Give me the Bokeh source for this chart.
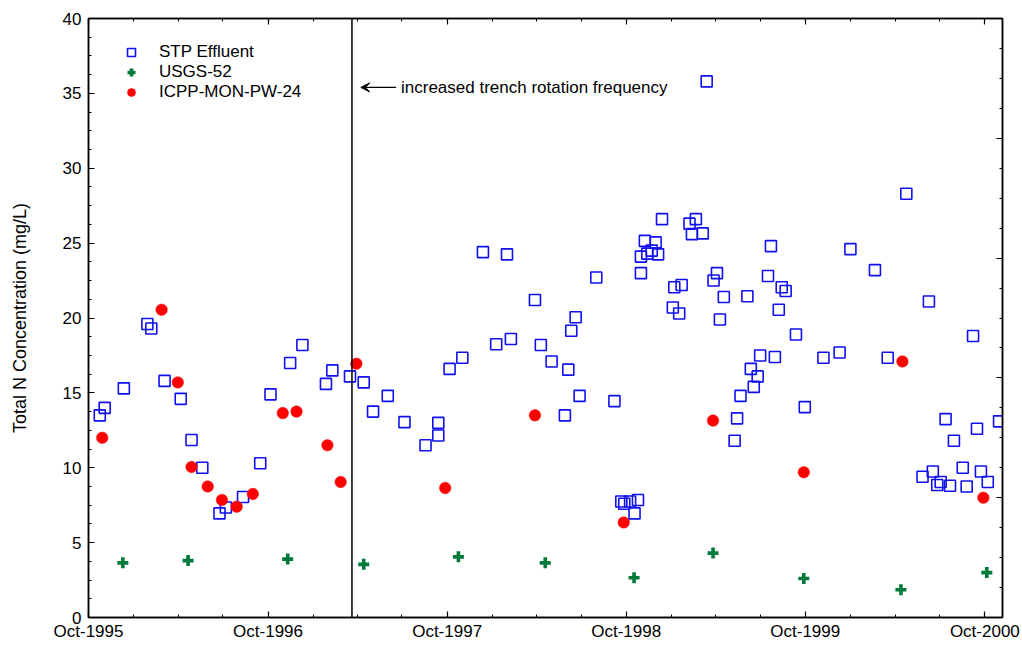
import pandas as pd
from bokeh.plotting import figure
from bokeh.models import (Range1d, FixedTicker, DatetimeTickFormatter, DatetimeAxis,
                          LinearAxis, Span, Arrow, VeeHead, Label, Legend)
from bokeh.embed import file_html
from bokeh.resources import INLINE

# ---------------- data ----------------
stp_dates = ["1995-10-24", "1995-11-03", "1995-12-12", "1996-01-29", "1996-02-06", "1996-03-04",
             "1996-04-06", "1996-04-28", "1996-05-20", "1996-06-24", "1996-07-07", "1996-08-11",
             "1996-09-15", "1996-10-06", "1996-11-15", "1996-12-10", "1997-01-27", "1997-02-09",
             "1997-03-17", "1997-04-14", "1997-05-03", "1997-06-02", "1997-07-06", "1997-08-18",
             "1997-09-13", "1997-09-13", "1997-10-06", "1997-11-01", "1997-12-13", "1998-01-09",
             "1998-01-31", "1998-02-08", "1998-03-29", "1998-04-10", "1998-05-02", "1998-05-29",
             "1998-06-05", "1998-06-11", "1998-06-20", "1998-06-28", "1998-08-01", "1998-09-07",
             "1998-09-21", "1998-09-27", "1998-10-09", "1998-10-18", "1998-10-25", "1998-10-31",
             "1998-10-31", "1998-11-08", "1998-11-13", "1998-11-22", "1998-11-30", "1998-12-05",
             "1998-12-13", "1999-01-04", "1999-01-07", "1999-01-17", "1999-01-22", "1999-02-07",
             "1999-02-12", "1999-02-20", "1999-03-06", "1999-03-14", "1999-03-28", "1999-04-04",
             "1999-04-10", "1999-04-18", "1999-05-10", "1999-05-15", "1999-05-22", "1999-06-05",
             "1999-06-12", "1999-06-18", "1999-06-26", "1999-07-01", "1999-07-17", "1999-07-23",
             "1999-07-31", "1999-08-08", "1999-08-14", "1999-08-22", "1999-09-12", "1999-09-30",
             "1999-11-07", "1999-12-10", "2000-01-01", "2000-02-20", "2000-03-17", "2000-04-24",
             "2000-05-27", "2000-06-09", "2000-06-17", "2000-06-26", "2000-07-03", "2000-07-13",
             "2000-07-22", "2000-07-30", "2000-08-17", "2000-08-25", "2000-09-07", "2000-09-15",
             "2000-09-23", "2000-10-07", "2000-10-30"]
stp_values = [13.5, 14.0, 15.3, 19.6, 19.3, 15.8, 14.6, 11.85, 10.0, 6.95, 7.35, 8.05,
              10.3, 14.9, 17.0, 18.2, 15.6, 16.5, 16.1, 15.7, 13.75, 14.8, 13.05, 11.5,
              12.15, 13.0, 16.6, 17.35, 24.4, 18.25, 24.25, 18.6, 21.2, 18.2, 17.1, 13.5,
              16.55, 19.15, 20.05, 14.8, 22.7, 14.45, 7.75, 7.6, 7.75, 6.95, 7.85, 24.1,
              23.0, 25.15, 24.3, 24.5, 25.05, 24.25, 26.6, 20.7, 22.05, 20.3, 22.2, 26.3,
              25.6, 26.6, 25.65, 35.8, 22.5, 23.0, 19.9, 21.4, 11.8, 13.3, 14.8, 21.45,
              16.6, 15.4, 16.1, 17.5, 22.8, 24.8, 17.4, 20.55, 22.05, 21.8, 18.9, 14.05,
              17.35, 17.7, 24.6, 23.2, 17.35, 28.3, 9.4, 21.1, 9.75, 8.85, 9.05, 13.25,
              8.8, 11.8, 10.0, 8.75, 18.8, 12.6, 9.75, 9.05, 13.1]

usgs_dates = ["1995-12-10", "1996-04-21", "1996-11-10", "1997-04-14", "1997-10-24", "1998-04-19",
              "1998-10-17", "1999-03-27", "1999-09-28", "2000-04-13", "2000-10-05"]
usgs_values = [3.65, 3.8, 3.9, 3.55, 4.05, 3.65, 2.65, 4.3, 2.6, 1.85, 3.0]

icpp_dates = ["1995-10-29", "1996-02-27", "1996-03-31", "1996-04-28", "1996-05-31", "1996-06-29",
              "1996-07-29", "1996-08-31", "1996-10-31", "1996-11-28", "1997-01-30", "1997-02-26",
              "1997-03-30", "1997-09-27", "1998-03-29", "1998-09-26", "1999-03-27", "1999-09-28",
              "2000-04-16", "2000-09-28"]
icpp_values = [12.0, 20.55, 15.7, 10.05, 8.75, 7.85, 7.4, 8.25, 13.65, 13.75, 11.5, 9.05,
               16.95, 8.65, 13.5, 6.35, 13.15, 9.7, 17.1, 8.0]

series_names = ["STP Effluent", "USGS-52", "ICPP-MON-PW-24"]
year_ticks = ["1995-10-01", "1996-10-01", "1997-10-01", "1998-10-01", "1999-10-01", "2000-10-01"]
quarter_ticks = ["1996-01-01", "1996-04-01", "1996-07-01", "1997-01-01", "1997-04-01", "1997-07-01",
                 "1998-01-01", "1998-04-01", "1998-07-01", "1999-01-01", "1999-04-01", "1999-07-01",
                 "2000-01-01", "2000-04-01", "2000-07-01"]
x_start, x_end = "1995-10-01", "2000-11-06"
event_date = "1997-03-21"
note_text = "increased trench rotation frequency"
note_value = 35.4
arrow_from, arrow_to, note_x = "1997-06-19", "1997-04-08", "1997-06-29"
y_label = "Total N Concentration (mg/L)"


def ms(d):
    return pd.Timestamp(d).value / 1e6


FONT = "Liberation Sans"

p = figure(width=1020, height=643, output_backend="svg", toolbar_location=None,
           x_axis_type="datetime",
           x_range=Range1d(ms(x_start), ms(x_end)), y_range=Range1d(0, 40),
           min_border_left=88, min_border_right=18, min_border_top=18, min_border_bottom=25)
p.grid.visible = False
p.outline_line_color = "black"
p.outline_line_width = 1.5
p.background_fill_color = "white"
p.border_fill_color = "white"

xticker = FixedTicker(ticks=[ms(d) for d in year_ticks], minor_ticks=[ms(d) for d in quarter_ticks])
fmt = DatetimeTickFormatter(years="%b-%Y", months="%b-%Y", days="%b-%Y", hours="%b-%Y",
                            minutes="%b-%Y", hourmin="%b-%Y", seconds="%b-%Y", minsec="%b-%Y",
                            milliseconds="%b-%Y", microseconds="%b-%Y")


def style_axis(ax, labels=True):
    ax.axis_line_color = "black"
    ax.axis_line_width = 1.5
    ax.major_tick_in = 6
    ax.major_tick_out = 0
    ax.minor_tick_in = 3
    ax.minor_tick_out = 0
    ax.major_tick_line_color = "black"
    ax.minor_tick_line_color = "black"
    ax.major_tick_line_width = 1.2
    ax.minor_tick_line_width = 1
    if labels:
        ax.major_label_text_font = FONT
        ax.major_label_text_font_size = "17px"
        ax.major_label_text_color = "black"
    else:
        ax.major_label_text_font_size = "0px"
        ax.major_label_text_alpha = 0


xa = p.xaxis[0]
xa.ticker = xticker
xa.formatter = fmt
style_axis(xa)
xa.major_label_standoff = 4

ya = p.yaxis[0]
ya.ticker = FixedTicker(ticks=list(range(0, 41, 5)),
                        minor_ticks=[i * 1.25 for i in range(0, 33)])
style_axis(ya)
ya.major_label_standoff = 7
ya.axis_label = y_label
ya.axis_label_text_font = FONT
ya.axis_label_text_font_size = "18px"
ya.axis_label_text_font_style = "normal"
ya.axis_label_text_color = "black"
ya.axis_label_standoff = 30

top = DatetimeAxis(ticker=xticker, formatter=fmt)
style_axis(top, labels=False)
p.add_layout(top, "above")

right = LinearAxis(ticker=FixedTicker(ticks=list(range(0, 41, 8)),
                                      minor_ticks=list(range(0, 41, 2))))
style_axis(right, labels=False)
p.add_layout(right, "right")

r_stp = p.scatter(pd.to_datetime(stp_dates), stp_values, marker="square", size=11,
                  fill_color="white", fill_alpha=0, line_color="#1010f0", line_width=1.6)
r_usgs = p.scatter(pd.to_datetime(usgs_dates), usgs_values, marker="cross", size=11,
                   line_color="#007a3a", line_width=3.6)
r_icpp = p.scatter(pd.to_datetime(icpp_dates), icpp_values, marker="circle", size=11.5,
                   fill_color="#ff0000", line_color="#ff0000", line_width=0.5)

legend = Legend(items=[(series_names[0], [r_stp]), (series_names[1], [r_usgs]),
                       (series_names[2], [r_icpp])],
                location=(33, 515), padding=0, margin=0, spacing=0,
                label_height=20, glyph_height=20, glyph_width=20, label_standoff=18,
                label_text_font=FONT, label_text_font_size="17px", label_text_color="black",
                border_line_color=None, background_fill_alpha=0)
p.add_layout(legend, "center")

p.add_layout(Span(location=ms(event_date), dimension="height", line_color="black", line_width=1.5))
p.add_layout(Arrow(x_start=ms(arrow_from), y_start=note_value, x_end=ms(arrow_to), y_end=note_value,
                   line_color="black", line_width=1.3,
                   end=VeeHead(size=9, fill_color="black", line_color="black", line_width=1)))
p.add_layout(Label(x=ms(note_x), y=note_value, text=note_text, text_font=FONT,
                   text_font_size="17px", text_baseline="middle", text_color="black"))

open("out.html", "w").write(file_html(p, INLINE))
